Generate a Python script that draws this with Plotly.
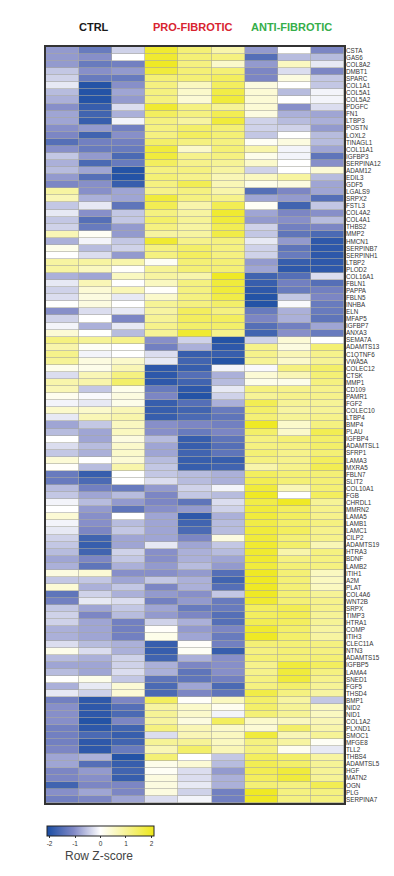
import plotly.graph_objects as go

genes = """CSTA GAS6 COL8A2 DMBT1 SPARC COL1A1 COL5A1 COL5A2 PDGFC FN1 LTBP3 POSTN LOXL2 TINAGL1 COL11A1 IGFBP3 SERPINA12 ADAM12 EDIL3 GDF5 LGALS9 SRPX2 FSTL3 COL4A2 COL4A1 THBS2 MMP2 HMCN1 SERPINB7 SERPINH1 LTBP2 PLOD2 COL16A1 FBLN1 PAPPA FBLN5 INHBA ELN MFAP5 IGFBP7 ANXA3 SEMA7A ADAMTS13 C1QTNF6 VWA5A COLEC12 CTSK MMP1 CD109 PAMR1 FGF2 COLEC10 LTBP4 BMP4 PLAU IGFBP4 ADAMTSL1 SFRP1 LAMA3 MXRA5 FBLN7 SLIT2 COL10A1 FGB CHRDL1 MMRN2 LAMA5 LAMB1 LAMC1 CILP2 ADAMTS19 HTRA3 BDNF LAMB2 ITIH1 A2M PLAT COL4A6 WNT2B SRPX TIMP3 HTRA1 COMP ITIH3 CLEC11A NTN3 ADAMTS15 IGFBP5 LAMA4 SNED1 FGF5 THSD4 BMP1 NID2 NID1 COL1A2 PLXND1 SMOC1 MFGE8 TLL2 THBS4 ADAMTSL5 HGF MATN2 OGN PLG SERPINA7""".split()

ctrl = [
[-0.9,-1.3,-0.4],[-0.9,-1.0,0.0],[-0.9,-1.3,-1.2],[-0.5,-1.0,-0.9],[-0.4,-1.3,-1.3],[-0.2,-2,-1.0],[-0.6,-2,-0.8],[-0.7,-2,-0.9],[-1.0,-1.8,-0.3],[-0.8,-1.7,-0.7],
[-0.8,-1.8,-0.1],[-1.0,-0.9,-1.2],[-1.1,-1.7,-1.0],[-1.5,-1.2,-1.2],[-1.0,-1.3,-1.3],[-0.5,-0.9,-1.6],[-0.7,-1.6,-1.3],[-0.6,-0.8,-2],[-0.9,-1.5,-2],[-1.1,-1.0,-1.8],
[0.9,-1.0,-0.8],[0.7,-0.7,-0.8],[-0.5,-0.2,-1.4],[-0.2,-1.0,-0.5],[-0.5,-1.5,-0.5],[-0.4,-1.3,-0.9],[0.7,0.1,-0.9],[-0.7,-0.1,-0.5],[0.2,-0.6,-0.4],[0.0,-0.3,-0.9],
[0.9,0.9,0.8],[0.9,0.6,0.05],[-0.7,-0.8,0.6],[-0.2,0.7,0.0],[-0.4,0.4,0.7],[-0.3,0.3,-0.2],[0.02,0.3,0.0],[-1.0,-0.3,-0.2],[-0.4,0,-1.1],[-0.1,-0.7,-0.2],
[0.4,0.0,-0.6],[1.2,1.0,1.1],[0.8,0.1,0.0],[1.1,-0.1,0.0],[1.0,0.3,0.5],[0.2,0.2,0.7],[-0.3,0.7,1.2],[0.8,0.8,1.4],[0.7,-0.5,0.2],[0.15,-0.05,0.3],
[-0.1,-0.2,0.2],[0.5,0.5,0.7],[-0.2,0.7,0.8],[-0.8,-0.5,0.6],[-0.6,-0.8,0.6],[0.0,-0.8,0.3],[-0.3,-0.6,0.5],[-0.5,-0.7,0.5],[0.4,0.0,0.4],[0.05,-0.6,0.8],
[-1.3,-1.8,0.0],[-1.3,-1.6,0.0],[-0.6,-1.2,-1.3],[-0.5,-0.8,-0.6],[-0.1,-0.6,-0.9],[0.0,-0.9,-1.4],[0.4,-1.0,0.0],[-0.1,-1.0,-0.6],[-0.2,-1.1,-0.5],[-0.4,-1.7,-0.8],
[-0.5,-1.8,-0.8],[-0.6,-1.7,-0.4],[-0.8,-1.1,-0.5],[-0.7,-1.4,-0.7],[0.3,0.4,-1.0],[-0.5,-0.5,-0.8],[0.4,-0.7,-0.5],[-1.4,-0.4,-0.7],[-1.2,-0.2,-0.3],[-0.5,-0.8,-0.5],
[-0.4,-1.1,-0.6],[-0.4,-0.8,-1.2],[-0.7,-0.8,-1.2],[-0.7,-0.8,-1.2],[-0.3,-0.6,-0.7],[0.2,-0.3,-0.7],[-0.6,-0.7,-0.4],[-0.8,-0.8,-0.4],[-0.6,-0.8,-0.3],[0.02,0.2,-0.5],
[-0.7,-0.2,0.4],[-0.2,-0.4,0.4],[-1.2,-1.9,-1.1],[-1.0,-1.9,-1.5],[-1.0,-1.9,-1.6],[-1.0,-2,-1.1],[-1.2,-1.9,-1.7],[-1.2,-1.6,-1.8],[-1.2,-1.9,-1.7],[-1.1,-1.9,-1.3],
[-0.8,-0.7,-2],[-0.8,-1.5,-1.8],[-1.1,-0.9,-1.7],[-1.1,-1.0,-1.8],[-1.7,-1.1,-1.1],[-1.0,-0.8,-1.1],[-1.2,-1.1,-0.8],
]

pro_fibrotic = [
[1.9,1.3,0.8],[1.9,1.3,1.2],[2.0,1.2,0.5],[1.8,1.3,1.3],[1.3,1.3,1.5],[1.2,0.6,1.5],[1.2,0.5,1.7],[1.2,0.4,1.8],[1.9,1.2,1.0],[1.5,1.2,1.6],
[1.2,0.9,1.8],[1.2,1.4,1.3],[1.2,1.5,1.3],[1.4,1.2,1.2],[1.8,0.5,1.3],[1.8,1.1,1.2],[1.5,1.1,1.0],[1.2,1.2,0.9],[1.3,1.1,0.7],[1.2,1.6,0.7],
[1.1,1.2,0.8],[1.8,1.2,1.1],[1.6,0.8,1.6],[1.2,0.9,1.9],[1.4,1.0,1.8],[1.2,0.9,1.6],[0.9,0.9,1.7],[1.9,1.1,1.2],[1.2,1.4,1.2],[1.2,1.5,1.2],
[0.1,1.3,1.3],[1.0,1.3,1.3],[0.9,0.8,2.0],[0.6,1.2,1.8],[0.05,1.2,1.8],[0.5,1.2,1.7],[1.0,1.2,1.4],[0.9,1.5,1.2],[1.0,1.5,1.5],[1.1,1.4,1.4],
[1.0,1.9,1.1],[-1.0,-0.4,-2],[-1.2,-0.7,-1.9],[-0.3,-1.8,-1.8],[-0.2,-1.7,-2],[-1.9,-1.8,-0.1],[-1.9,-1.5,-0.7],[-1.9,-1.7,-0.6],[-1.3,-1.9,-0.2],[-1.1,-2,-0.4],
[-1.8,-1.5,-0.7],[-1.8,-1.7,-1.3],[-1.8,-1.6,-1.4],[-1.0,-1.1,-1.2],[-1.0,-1.3,-1.1],[-0.6,-1.8,-1.4],[-0.8,-1.8,-1.5],[-0.8,-1.7,-1.4],[-0.6,-1.8,-1.8],[-0.5,-1.8,-1.7],
[-0.5,-0.6,-0.7],[-0.3,-0.6,-0.7],[-0.9,-0.4,-0.1],[-1.1,-0.5,-0.6],[-1.1,-1.4,-0.3],[-1.0,-0.9,-0.4],[-0.8,-1.9,-0.7],[-0.8,-1.7,-0.6],[-0.8,-1.6,-0.6],[-0.8,-1.1,0.3],
[-0.2,-0.8,-0.5],[-1.0,-0.7,-0.6],[-1.0,-0.7,-0.8],[-0.9,-0.6,-0.9],[-1.0,-0.9,-1.5],[-0.5,-0.7,-1.7],[-1.1,-0.7,-1.5],[-0.9,-1.0,-0.5],[-1.2,-0.9,-1.3],[-0.8,-1.3,-1.3],
[-0.9,-1.1,-1.5],[-0.4,-0.7,-1.5],[0.05,-0.9,-1.1],[0.2,-0.8,-1.3],[-1.8,0.05,-1.2],[-1.8,0.1,-1.8],[-1.7,-0.7,-1.0],[-0.7,-1.1,-1.0],[-0.7,-1.4,-1.0],[-1.4,-1.4,-1.2],
[-1.6,-0.8,-1.6],[-1.6,-1.1,-1.4],[1.5,0.05,0.6],[0.9,0.5,0.15],[1.0,0.5,-0.1],[0.9,0.3,1.5],[1.2,0.7,0.5],[-0.3,0.7,0.6],[1.0,1.0,0.6],[0.7,1.4,0.7],
[1.3,0.0,-0.5],[0.2,0.4,-0.6],[0.1,-0.3,-0.9],[0.3,-0.3,-0.7],[0.3,-0.2,-0.7],[0.3,-0.4,-1.2],[-0.3,-0.1,-1.2],
]

anti_fibrotic = [
[-0.9,0.0,-1.1],[-1.5,-0.6,-0.6],[-0.9,0.6,-0.2],[-1.1,-0.3,-1.1],[-1.1,0.3,-0.5],[0.3,0,-0.5],[0.4,-0.6,-0.1],[0.4,0,-0.1],[0.4,-1.0,-0.3],[0.3,-0.7,-0.8],
[-0.4,-0.6,-0.7],[-0.4,-0.4,-0.9],[-0.5,0,-0.6],[0.1,0.3,-0.6],[0.8,-0.1,-0.8],[0.2,-0.1,-1.4],[0.5,0,-1.0],[-0.4,0.0,0.4],[0.6,0.9,-0.6],[0.2,0.3,-0.8],
[-1.5,-1.1,-0.8],[-0.8,-0.9,-1.5],[0.1,-1.7,-0.5],[-0.8,-1.1,-1.0],[-0.9,-1.0,-0.6],[-0.4,-1.2,-1.1],[-0.5,-1.4,-1.6],[-0.2,-0.9,-1.9],[-0.4,-1.4,-1.9],[-0.4,-1.3,-1.9],
[-0.9,-1.8,-1.9],[-0.8,-1.9,-1.9],[-1.7,-1.5,-0.3],[-1.8,-1.2,-1.5],[-1.9,-1.3,-1.2],[-2,-0.5,-1.1],[-2,-0.05,-1.3],[-1.3,-0.7,-1.3],[-1.1,-0.7,-1.4],[-1.5,-1.2,-0.8],
[-1.7,-1.0,-1.3],[-0.4,0.4,0.0],[1.1,0.3,1.3],[1.1,0.7,1.1],[1.0,0.5,1.0],[-0.05,1.2,1.4],[0.4,0.7,1.3],[0.2,0.2,1.2],[1.2,1.1,1.1],[1.0,1.1,1.1],
[1.6,1.0,1.0],[1.4,0.9,1.0],[1.3,1.0,1.1],[2.0,0.5,1.2],[1.4,0.5,1.6],[1.2,1.3,1.4],[1.2,1.2,1.4],[1.3,1.1,1.3],[1.2,1.1,1.5],[0.8,1.1,1.6],
[1.5,1.3,1.3],[1.6,1.3,1.3],[1.8,0.7,1.3],[2.0,0.0,1.5],[1.7,2.0,1.0],[1.8,1.5,1.1],[1.8,1.5,1.1],[1.7,1.4,1.2],[1.8,1.5,1.1],[1.8,1.3,1.1],
[1.9,1.4,0.7],[1.9,0.8,1.2],[1.9,1.2,1.2],[1.8,1.3,1.2],[2.0,1.3,0.6],[2.0,1.3,0.6],[2.0,1.3,0.6],[2.0,1.3,1.0],[1.9,1.3,1.1],[1.5,1.6,1.1],
[1.5,1.6,1.0],[1.6,1.5,1.0],[1.9,1.4,0.9],[2.0,1.4,0.9],[1.3,1.3,1.2],[1.2,1.3,1.2],[1.3,1.3,1.3],[1.1,1.8,1.5],[1.1,1.8,1.2],[1.2,1.8,1.1],
[1.2,1.4,1.0],[1.7,1.2,0.9],[1.4,0.9,-0.5],[1.4,1.0,0.6],[1.3,1.0,0.6],[0.5,0.6,0.7],[0.4,1.4,0.8],[1.8,0.7,1.0],[1.2,0.9,0.1],[1.2,0.15,-0.2],
[1.5,1.4,0.9],[1.6,1.4,1.0],[1.6,1.8,1.0],[1.5,1.8,1.0],[1.3,1.2,1.6],[2.0,1.2,1.2],[2.0,1.2,1.2],
]

z = [c + p + a for c, p, a in zip(ctrl, pro_fibrotic, anti_fibrotic)]
samples = ["C1", "C2", "C3", "P1", "P2", "P3", "A1", "A2", "A3"]
colorbar_ticks = [-2, -1, 0, 1, 2]
colorbar_labels = ["-2", "-1", "0", "1", "2"]

W, H = 394, 876
L, R, T, B = 45.5, 344, 46.5, 803

fig = go.Figure(go.Heatmap(
    z=z, x=samples, y=genes,
    zmin=-2.1, zmax=2.1,
    colorscale=[[0, "#1a4da3"], [0.25, "#8189c6"], [0.5, "#ffffff"], [0.75, "#f6f291"], [1, "#eee81a"]],
    xgap=0.6, ygap=0.6,
    colorbar=dict(
        orientation="h", thickness=10, thicknessmode="pixels",
        len=107, lenmode="pixels",
        x=(46.5 - L) / (R - L), xanchor="left", xref="paper",
        y=1 - 826 / H, yanchor="top", yref="container",
        outlinewidth=1, outlinecolor="#222222",
        tickvals=colorbar_ticks, ticktext=colorbar_labels, ticks="outside", ticklen=2, tickwidth=0.7, tickcolor="#333",
        tickfont=dict(family="Liberation Sans, Arial", size=6.5, color="#333"),
        xpad=0, ypad=0,
    ),
))

fig.update_xaxes(visible=True, showticklabels=False, ticks="", showgrid=False, zeroline=False,
                 showline=True, linecolor="#333333", linewidth=1.5, mirror=True)
fig.update_yaxes(autorange="reversed", side="right", tickmode="array", tickvals=genes, ticktext=genes,
                 ticks="", showgrid=False, zeroline=False, showline=True, linecolor="#333333",
                 linewidth=1.5, mirror=True, ticklabelstandoff=-1,
                 tickfont=dict(family="Liberation Sans, Arial", size=6.3, color="#333"))

fig.update_layout(
    width=W, height=H,
    margin=dict(l=L, r=W - R, t=T, b=H - B, pad=0),
    paper_bgcolor="white", plot_bgcolor="#a9a9a0",
    showlegend=False,
)

def add_title(text, px, py, size, color, bold=True):
    fig.add_annotation(text=f"<b>{text}</b>" if bold else text,
                       x=(px - L) / (R - L), y=(B - py) / (B - T),
                       xref="paper", yref="paper", showarrow=False, yanchor="middle", xanchor="center",
                       font=dict(family="Liberation Sans, Arial", size=size, color=color))

add_title("CTRL", 94, 26, 11, "#1a1a1a")
add_title("PRO-FIBROTIC", 192, 26, 11, "#d8232f")
add_title("ANTI-FIBROTIC", 291, 26, 11, "#35ae4a")
add_title("Row Z-score", 99, 856, 12, "#444444", bold=False)

fig.write_html("out.html", post_script="document.body.style.margin='0';", config={"displayModeBar": False})
